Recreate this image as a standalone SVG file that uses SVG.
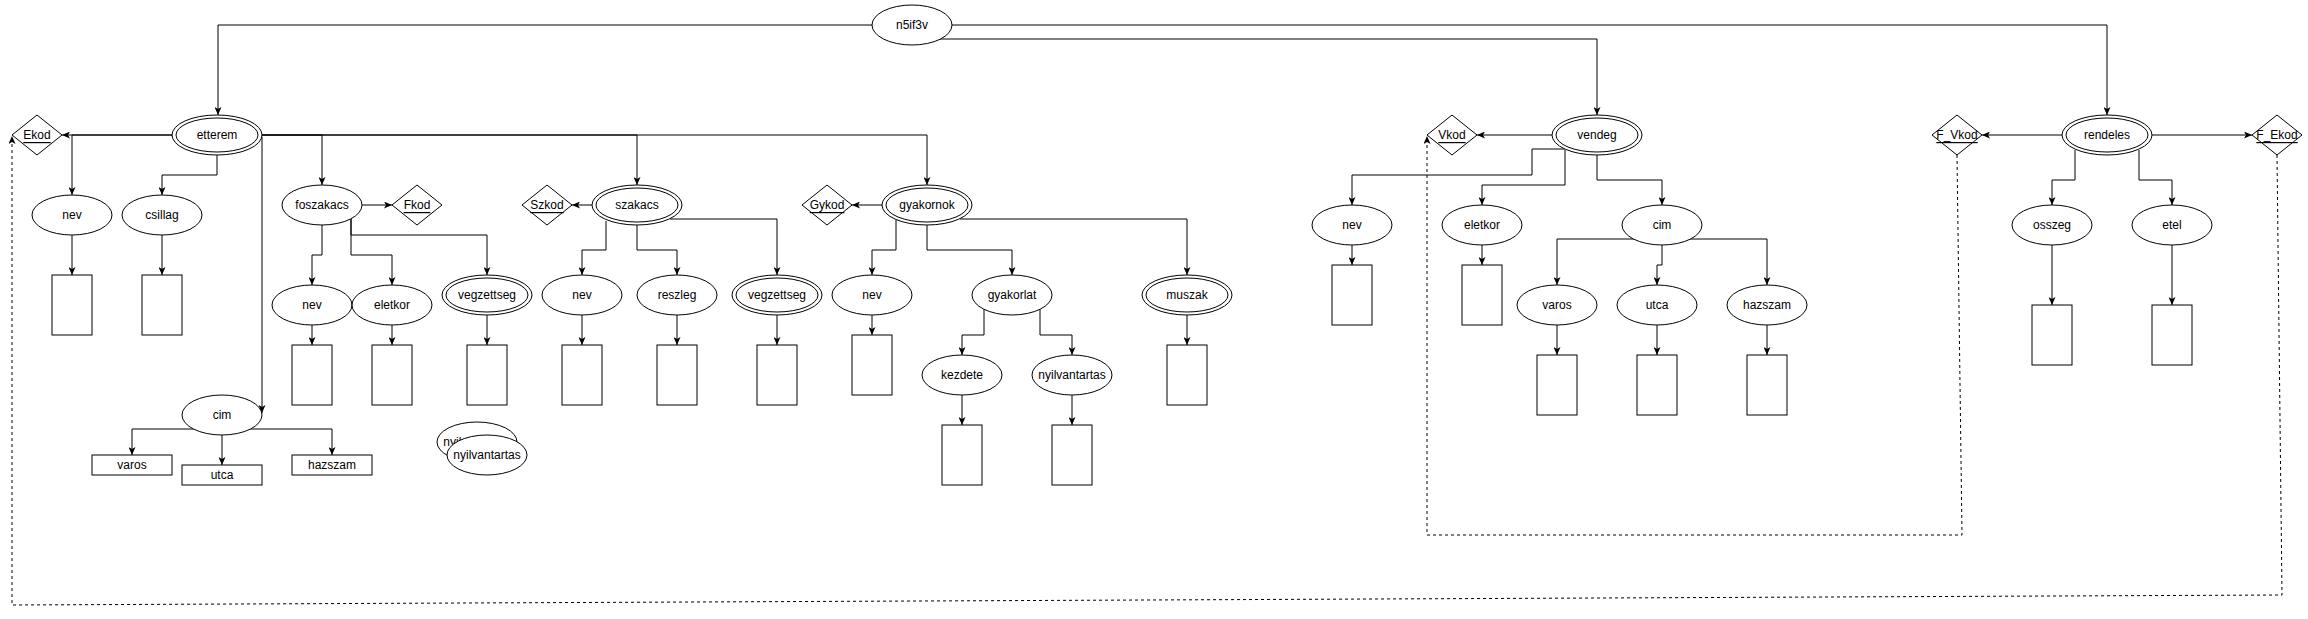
<svg xmlns="http://www.w3.org/2000/svg" width="2308" height="619" viewBox="0 0 2308 619">
<style>
.n{fill:#fff;stroke:#000;stroke-width:1}
.e{fill:none;stroke:#000;stroke-width:1;marker-end:url(#arr)}
.d{fill:none;stroke:#000;stroke-width:1;stroke-dasharray:3 3;marker-end:url(#arr)}
text{font-family:"Liberation Sans",Arial,Helvetica,sans-serif;font-size:12px;fill:#000;text-anchor:middle;dominant-baseline:central}
.u{text-decoration:underline}
</style>
<defs>
<marker id="arr" markerUnits="userSpaceOnUse" viewBox="0 0 8 7" markerWidth="8" markerHeight="7" refX="8" refY="3.5" orient="auto">
<path d="M0,0 L8,3.5 L0,7 L2,3.5 z" fill="#000"/>
</marker>
</defs>
<rect width="2308" height="619" fill="#fff"/>
<g id="connectors">
<path class="e" d="M872,25 L218,25 L218,115"/>
<path class="e" d="M952,25 L2107,25 L2107,115"/>
<path class="e" d="M940,39 L1597,39 L1597,115"/>
<path class="e" d="M172,135 L62,135"/>
<path class="e" d="M172,135 L72,135 L72,195"/>
<path class="e" d="M217,155 L217,175 L162,175 L162,195"/>
<path class="e" d="M262,135 L322,135 L322,185"/>
<path class="e" d="M262,135 L637,135 L637,185"/>
<path class="e" d="M262,135 L927,135 L927,185"/>
<path class="e" d="M262,137 L262,413"/>
<path class="e" d="M72,235 L72,275"/>
<path class="e" d="M162,235 L162,275"/>
<path class="e" d="M194,429 L132,429 L132,455"/>
<path class="e" d="M222,435 L222,465"/>
<path class="e" d="M250,429 L332,429 L332,455"/>
<path class="e" d="M362,205 L392,205"/>
<path class="e" d="M322,225 L322,255 L312,255 L312,285"/>
<path class="e" d="M351,219 L351,255 L392,255 L392,285"/>
<path class="e" d="M351,219 L351,235 L487,235 L487,275"/>
<path class="e" d="M312,325 L312,345"/>
<path class="e" d="M392,325 L392,345"/>
<path class="e" d="M487,315 L487,345"/>
<path class="e" d="M592,205 L572,205"/>
<path class="e" d="M606,221 L606,250 L582,250 L582,275"/>
<path class="e" d="M637,225 L637,250 L677,250 L677,275"/>
<path class="e" d="M670,219 L777,219 L777,275"/>
<path class="e" d="M582,315 L582,345"/>
<path class="e" d="M677,315 L677,345"/>
<path class="e" d="M777,315 L777,345"/>
<path class="e" d="M882,205 L852,205"/>
<path class="e" d="M896,220 L896,250 L872,250 L872,275"/>
<path class="e" d="M927,225 L927,250 L1012,250 L1012,275"/>
<path class="e" d="M960,219 L1187,219 L1187,275"/>
<path class="e" d="M872,315 L872,335"/>
<path class="e" d="M984,309 L984,335 L962,335 L962,355"/>
<path class="e" d="M1040,309 L1040,335 L1072,335 L1072,355"/>
<path class="e" d="M962,395 L962,425"/>
<path class="e" d="M1072,395 L1072,425"/>
<path class="e" d="M1187,315 L1187,345"/>
<path class="e" d="M1552,135 L1477,135"/>
<path class="e" d="M1565,149 L1532,149 L1532,175 L1352,175 L1352,205"/>
<path class="e" d="M1565,150 L1565,185 L1482,185 L1482,205"/>
<path class="e" d="M1597,155 L1597,180 L1662,180 L1662,205"/>
<path class="e" d="M1352,245 L1352,265"/>
<path class="e" d="M1482,245 L1482,265"/>
<path class="e" d="M1634,239 L1557,239 L1557,285"/>
<path class="e" d="M1662,245 L1662,265 L1657,265 L1657,285"/>
<path class="e" d="M1690,239 L1767,239 L1767,285"/>
<path class="e" d="M1557,325 L1557,355"/>
<path class="e" d="M1657,325 L1657,355"/>
<path class="e" d="M1767,325 L1767,355"/>
<path class="e" d="M2062,135 L1982,135"/>
<path class="e" d="M2152,135 L2252,135"/>
<path class="e" d="M2075,150 L2075,180 L2052,180 L2052,205"/>
<path class="e" d="M2139,150 L2139,180 L2172,180 L2172,205"/>
<path class="e" d="M2052,245 L2052,305"/>
<path class="e" d="M2172,245 L2172,305"/>
<path class="d" d="M1957,155 L1962,535 L1427,535 L1427,136"/>
<path class="d" d="M2277,155 L2282,595 L12,605 L12,136"/>
</g>
<g id="n5if3v"><ellipse class="n" cx="912" cy="25" rx="40" ry="20"/><text x="912" y="25">n5if3v</text></g>
<g id="etterem"><ellipse class="n" cx="217" cy="135" rx="45" ry="20"/><ellipse class="n" cx="217" cy="135" rx="41" ry="17"/><text x="217" y="135">etterem</text></g>
<g id="ekod"><polygon class="n" points="37,115 62,135 37,155 12,135"/><text class="u" x="37" y="135">Ekod</text></g>
<g id="etterem-nev"><ellipse class="n" cx="72" cy="215" rx="40" ry="20"/><text x="72" y="215">nev</text></g>
<g id="etterem-csillag"><ellipse class="n" cx="162" cy="215" rx="40" ry="20"/><text x="162" y="215">csillag</text></g>
<g id="etterem-nev-box"><rect class="n" x="52" y="275" width="40" height="60"/></g>
<g id="etterem-csillag-box"><rect class="n" x="142" y="275" width="40" height="60"/></g>
<g id="etterem-cim"><ellipse class="n" cx="222" cy="415" rx="40" ry="20"/><text x="222" y="415">cim</text></g>
<g id="etterem-varos"><rect class="n" x="92" y="455" width="80" height="20"/><text x="132" y="465">varos</text></g>
<g id="etterem-utca"><rect class="n" x="182" y="465" width="80" height="20"/><text x="222" y="475">utca</text></g>
<g id="etterem-hazszam"><rect class="n" x="292" y="455" width="80" height="20"/><text x="332" y="465">hazszam</text></g>
<g id="foszakacs"><ellipse class="n" cx="322" cy="205" rx="40" ry="20"/><text x="322" y="205">foszakacs</text></g>
<g id="fkod"><polygon class="n" points="417,185 442,205 417,225 392,205"/><text class="u" x="417" y="205">Fkod</text></g>
<g id="foszakacs-nev"><ellipse class="n" cx="312" cy="305" rx="40" ry="20"/><text x="312" y="305">nev</text></g>
<g id="foszakacs-eletkor"><ellipse class="n" cx="392" cy="305" rx="40" ry="20"/><text x="392" y="305">eletkor</text></g>
<g id="foszakacs-vegzettseg"><ellipse class="n" cx="487" cy="295" rx="45" ry="20"/><ellipse class="n" cx="487" cy="295" rx="41" ry="17"/><text x="487" y="295">vegzettseg</text></g>
<g id="foszakacs-nev-box"><rect class="n" x="292" y="345" width="40" height="60"/></g>
<g id="foszakacs-eletkor-box"><rect class="n" x="372" y="345" width="40" height="60"/></g>
<g id="foszakacs-vegzettseg-box"><rect class="n" x="467" y="345" width="40" height="60"/></g>
<g id="nyilvantartas-back"><ellipse class="n" cx="477" cy="442" rx="40" ry="20"/><text x="477" y="442">nyilvantartas</text></g>
<g id="nyilvantartas-front"><ellipse class="n" cx="487" cy="455" rx="40" ry="20"/><text x="487" y="455">nyilvantartas</text></g>
<g id="szakacs"><ellipse class="n" cx="637" cy="205" rx="45" ry="20"/><ellipse class="n" cx="637" cy="205" rx="41" ry="17"/><text x="637" y="205">szakacs</text></g>
<g id="szkod"><polygon class="n" points="547,185 572,205 547,225 522,205"/><text class="u" x="547" y="205">Szkod</text></g>
<g id="szakacs-nev"><ellipse class="n" cx="582" cy="295" rx="40" ry="20"/><text x="582" y="295">nev</text></g>
<g id="szakacs-reszleg"><ellipse class="n" cx="677" cy="295" rx="40" ry="20"/><text x="677" y="295">reszleg</text></g>
<g id="szakacs-vegzettseg"><ellipse class="n" cx="777" cy="295" rx="45" ry="20"/><ellipse class="n" cx="777" cy="295" rx="41" ry="17"/><text x="777" y="295">vegzettseg</text></g>
<g id="szakacs-nev-box"><rect class="n" x="562" y="345" width="40" height="60"/></g>
<g id="szakacs-reszleg-box"><rect class="n" x="657" y="345" width="40" height="60"/></g>
<g id="szakacs-vegzettseg-box"><rect class="n" x="757" y="345" width="40" height="60"/></g>
<g id="gyakornok"><ellipse class="n" cx="927" cy="205" rx="45" ry="20"/><ellipse class="n" cx="927" cy="205" rx="41" ry="17"/><text x="927" y="205">gyakornok</text></g>
<g id="gykod"><polygon class="n" points="827,185 852,205 827,225 802,205"/><text class="u" x="827" y="205">Gykod</text></g>
<g id="gyakornok-nev"><ellipse class="n" cx="872" cy="295" rx="40" ry="20"/><text x="872" y="295">nev</text></g>
<g id="gyakornok-nev-box"><rect class="n" x="852" y="335" width="40" height="60"/></g>
<g id="gyakorlat"><ellipse class="n" cx="1012" cy="295" rx="40" ry="20"/><text x="1012" y="295">gyakorlat</text></g>
<g id="kezdete"><ellipse class="n" cx="962" cy="375" rx="40" ry="20"/><text x="962" y="375">kezdete</text></g>
<g id="gyakorlat-nyilvantartas"><ellipse class="n" cx="1072" cy="375" rx="40" ry="20"/><text x="1072" y="375">nyilvantartas</text></g>
<g id="kezdete-box"><rect class="n" x="942" y="425" width="40" height="60"/></g>
<g id="nyilvantartas-box"><rect class="n" x="1052" y="425" width="40" height="60"/></g>
<g id="muszak"><ellipse class="n" cx="1187" cy="295" rx="45" ry="20"/><ellipse class="n" cx="1187" cy="295" rx="41" ry="17"/><text x="1187" y="295">muszak</text></g>
<g id="muszak-box"><rect class="n" x="1167" y="345" width="40" height="60"/></g>
<g id="vendeg"><ellipse class="n" cx="1597" cy="135" rx="45" ry="20"/><ellipse class="n" cx="1597" cy="135" rx="41" ry="17"/><text x="1597" y="135">vendeg</text></g>
<g id="vkod"><polygon class="n" points="1452,115 1477,135 1452,155 1427,135"/><text class="u" x="1452" y="135">Vkod</text></g>
<g id="vendeg-nev"><ellipse class="n" cx="1352" cy="225" rx="40" ry="20"/><text x="1352" y="225">nev</text></g>
<g id="vendeg-nev-box"><rect class="n" x="1332" y="265" width="40" height="60"/></g>
<g id="vendeg-eletkor"><ellipse class="n" cx="1482" cy="225" rx="40" ry="20"/><text x="1482" y="225">eletkor</text></g>
<g id="vendeg-eletkor-box"><rect class="n" x="1462" y="265" width="40" height="60"/></g>
<g id="vendeg-cim"><ellipse class="n" cx="1662" cy="225" rx="40" ry="20"/><text x="1662" y="225">cim</text></g>
<g id="vendeg-varos"><ellipse class="n" cx="1557" cy="305" rx="40" ry="20"/><text x="1557" y="305">varos</text></g>
<g id="vendeg-utca"><ellipse class="n" cx="1657" cy="305" rx="40" ry="20"/><text x="1657" y="305">utca</text></g>
<g id="vendeg-hazszam"><ellipse class="n" cx="1767" cy="305" rx="40" ry="20"/><text x="1767" y="305">hazszam</text></g>
<g id="vendeg-varos-box"><rect class="n" x="1537" y="355" width="40" height="60"/></g>
<g id="vendeg-utca-box"><rect class="n" x="1637" y="355" width="40" height="60"/></g>
<g id="vendeg-hazszam-box"><rect class="n" x="1747" y="355" width="40" height="60"/></g>
<g id="rendeles"><ellipse class="n" cx="2107" cy="135" rx="45" ry="20"/><ellipse class="n" cx="2107" cy="135" rx="41" ry="17"/><text x="2107" y="135">rendeles</text></g>
<g id="f-vkod"><polygon class="n" points="1957,115 1982,135 1957,155 1932,135"/><text class="u" x="1957" y="135">F_Vkod</text></g>
<g id="f-ekod"><polygon class="n" points="2277,115 2302,135 2277,155 2252,135"/><text class="u" x="2277" y="135">F_Ekod</text></g>
<g id="osszeg"><ellipse class="n" cx="2052" cy="225" rx="40" ry="20"/><text x="2052" y="225">osszeg</text></g>
<g id="etel"><ellipse class="n" cx="2172" cy="225" rx="40" ry="20"/><text x="2172" y="225">etel</text></g>
<g id="osszeg-box"><rect class="n" x="2032" y="305" width="40" height="60"/></g>
<g id="etel-box"><rect class="n" x="2152" y="305" width="40" height="60"/></g>
</svg>
